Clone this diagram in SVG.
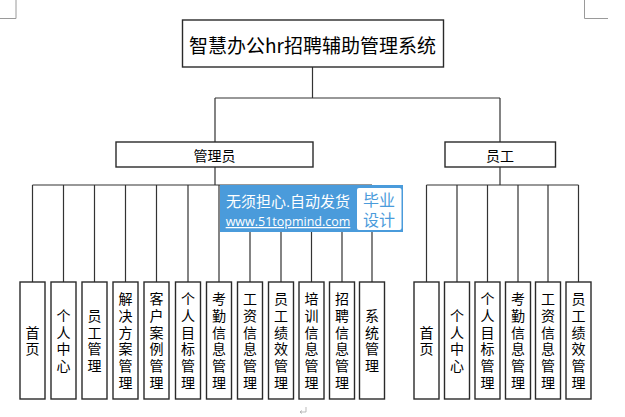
<svg xmlns="http://www.w3.org/2000/svg" width="625" height="417" viewBox="0 0 625 417">
<style>
.box{fill:#fff;stroke:#2a2a2a;stroke-width:1.4}
.ln{fill:none;stroke:#333;stroke-width:1.2}
.crop{fill:none;stroke:#9a9a9a;stroke-width:1}
.t{font-family:"Noto Sans CJK SC","Noto Sans",sans-serif;fill:#000;text-anchor:middle}
.lf{font-size:14px;writing-mode:vertical-rl;letter-spacing:2.8px}
.wm{font-family:"Liberation Sans","Noto Sans CJK SC",sans-serif}
</style>
<rect width="625" height="417" fill="#fff"/>
<g id="cropmarks">
<path class="crop" d="M16,0V18.5H0M584.5,0V18.5H608"/>
</g>
<g id="connectors">
<path class="ln" d="M312.5,67V98M215,98H500M215,98V142M500,98V142"/>
<path class="ln" d="M215,167V185M32.5,185H372M32.5,185V282M63.5,185V282M94.5,185V282M125.5,185V282M156.5,185V282M188,185V282M219,185V282M250,185V282M281,185V282M311.5,185V282M342,185V282M372,185V282"/>
<path class="ln" d="M500,167V185M426.5,185H578.5M426.5,185V282M457,185V282M487.5,185V282M518,185V282M548,185V282M578.5,185V282"/>
</g>
<g id="root">
<rect class="box" x="182.5" y="20" width="261" height="47"/>
<text class="t" x="312.5" y="44" font-size="19" dominant-baseline="central">智慧办公hr招聘辅助管理系统</text>
</g>
<g id="admin">
<rect class="box" x="116" y="142" width="197" height="25"/>
<text class="t" x="214.5" y="154.5" font-size="14" dominant-baseline="central">管理员</text>
</g>
<g id="employee">
<rect class="box" x="445" y="142" width="110.5" height="25"/>
<text class="t" x="500" y="154.5" font-size="14" dominant-baseline="central">员工</text>
</g>
<g id="a1"><rect class="box" x="20" y="282" width="25" height="117"/><text class="t lf" x="32.5" y="342">首页</text></g>
<g id="a2"><rect class="box" x="51" y="282" width="25" height="117"/><text class="t lf" x="63.5" y="342">个人中心</text></g>
<g id="a3"><rect class="box" x="82" y="282" width="25" height="117"/><text class="t lf" x="94.5" y="342">员工管理</text></g>
<g id="a4"><rect class="box" x="113" y="282" width="25" height="117"/><text class="t lf" x="125.5" y="342">解决方案管理</text></g>
<g id="a5"><rect class="box" x="144" y="282" width="25" height="117"/><text class="t lf" x="156.5" y="342">客户案例管理</text></g>
<g id="a6"><rect class="box" x="175.5" y="282" width="25" height="117"/><text class="t lf" x="188" y="342">个人目标管理</text></g>
<g id="a7"><rect class="box" x="206.5" y="282" width="25" height="117"/><text class="t lf" x="219" y="342">考勤信息管理</text></g>
<g id="a8"><rect class="box" x="237.5" y="282" width="25" height="117"/><text class="t lf" x="250" y="342">工资信息管理</text></g>
<g id="a9"><rect class="box" x="268.5" y="282" width="25" height="117"/><text class="t lf" x="281" y="342">员工绩效管理</text></g>
<g id="a10"><rect class="box" x="299" y="282" width="25" height="117"/><text class="t lf" x="311.5" y="342">培训信息管理</text></g>
<g id="a11"><rect class="box" x="329.5" y="282" width="25" height="117"/><text class="t lf" x="342" y="342">招聘信息管理</text></g>
<g id="a12"><rect class="box" x="359.5" y="282" width="25" height="117"/><text class="t lf" x="372" y="342">系统管理</text></g>
<g id="e1"><rect class="box" x="414" y="282" width="25" height="117"/><text class="t lf" x="426.5" y="342">首页</text></g>
<g id="e2"><rect class="box" x="444.5" y="282" width="25" height="117"/><text class="t lf" x="457" y="342">个人中心</text></g>
<g id="e3"><rect class="box" x="475" y="282" width="25" height="117"/><text class="t lf" x="487.5" y="342">个人目标管理</text></g>
<g id="e4"><rect class="box" x="505.5" y="282" width="25" height="117"/><text class="t lf" x="518" y="342">考勤信息管理</text></g>
<g id="e5"><rect class="box" x="535.5" y="282" width="25" height="117"/><text class="t lf" x="548" y="342">工资信息管理</text></g>
<g id="e6"><rect class="box" x="566" y="282" width="25" height="117"/><text class="t lf" x="578.5" y="342">员工绩效管理</text></g>
<g id="watermark">
<rect x="220" y="185" width="183" height="47" fill="#4a9bdb"/>
<rect x="357" y="188" width="44.5" height="42" rx="2" fill="#fff"/>
<text class="wm" x="288" y="207" font-size="15" fill="#fff" text-anchor="middle">无须担心.自动发货</text>
<text x="288" y="226" font-family="'Open Sans','Noto Sans',sans-serif" font-size="12.5" fill="#fff" text-anchor="middle" text-decoration="underline">www.51topmind.com</text>
<text class="wm" x="379" y="206" font-size="16" fill="#4a9bdb" text-anchor="middle">毕业</text>
<text class="wm" x="379" y="226" font-size="16" fill="#4a9bdb" text-anchor="middle">设计</text>
</g>
<g id="mark"><path d="M306,407V412H300M300,412l2,-1.5M300,412l2,1.5" fill="none" stroke="#aaa" stroke-width="0.8"/></g>
</svg>
